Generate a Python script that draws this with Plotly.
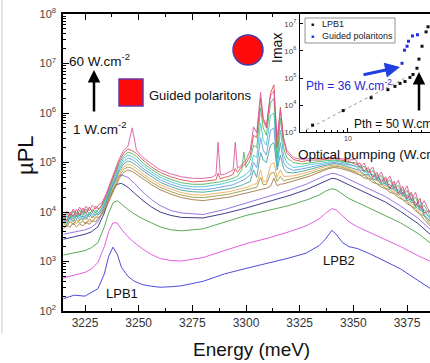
import numpy as np
import plotly.graph_objects as go

# ---------------- main panel data (log10 of µPL) ----------------
energy_smooth = [3215, 3220, 3225, 3228, 3231, 3234, 3236, 3238, 3240, 3242, 3245, 3248,
                 3252, 3256, 3260, 3265, 3270, 3280, 3290, 3300, 3310, 3320, 3328, 3334,
                 3337, 3340, 3342, 3345, 3348, 3352, 3358, 3365, 3372, 3380, 3386]

spec01 = [2.25, 2.32, 2.30, 2.38, 2.45, 2.75, 3.10, 3.29, 3.15, 2.88, 2.70, 2.60, 2.53, 2.50, 2.48,
          2.49, 2.51, 2.60, 2.75, 2.86, 2.96, 3.07, 3.17, 3.32, 3.45, 3.63, 3.55, 3.38, 3.30, 3.26,
          3.15, 3.00, 2.85, 2.62, 2.45]
spec02 = [2.67, 2.72, 2.78, 2.85, 2.98, 3.30, 3.60, 3.78, 3.78, 3.65, 3.50, 3.38, 3.25, 3.14, 3.06,
          3.02, 3.01, 3.08, 3.22, 3.36, 3.47, 3.60, 3.72, 3.86, 3.97, 4.07, 4.04, 3.92, 3.80, 3.70,
          3.58, 3.43, 3.30, 3.12, 3.00]
spec03 = [3.13, 3.18, 3.22, 3.28, 3.38, 3.70, 3.98, 4.18, 4.23, 4.16, 4.05, 3.96, 3.86, 3.78, 3.70,
          3.64, 3.62, 3.66, 3.80, 3.93, 4.03, 4.13, 4.24, 4.34, 4.42, 4.47, 4.45, 4.36, 4.27, 4.19,
          4.07, 3.93, 3.78, 3.57, 3.37]
spec04 = [3.45, 3.50, 3.55, 3.60, 3.70, 3.98, 4.25, 4.45, 4.56, 4.58, 4.50, 4.38, 4.23, 4.10, 4.00,
          3.93, 3.89, 3.88, 3.97, 4.08, 4.20, 4.33, 4.45, 4.56, 4.63, 4.68, 4.67, 4.61, 4.55, 4.47,
          4.35, 4.20, 4.01, 3.77, 3.54]
spec05 = [3.55, 3.60, 3.64, 3.69, 3.80, 4.08, 4.35, 4.56, 4.70, 4.75, 4.70, 4.58, 4.40, 4.25, 4.13,
          4.03, 3.98, 3.95, 4.05, 4.18, 4.31, 4.44, 4.56, 4.68, 4.74, 4.78, 4.77, 4.72, 4.66, 4.58,
          4.46, 4.31, 4.12, 3.88, 3.64]

energy_bundle = [3215, 3216.5, 3218, 3219.5, 3221, 3222.5, 3224, 3225.5, 3227, 3228.5, 3230, 3231.5,
                 3233, 3235, 3237, 3239, 3241, 3243, 3245, 3247, 3249, 3252, 3256, 3260, 3265, 3270,
                 3275, 3280, 3284, 3286, 3287, 3288, 3290, 3292, 3294, 3295, 3296, 3298, 3299, 3300,
                 3302, 3303.5, 3305, 3306.8, 3308, 3309.5, 3311.4, 3313, 3314.5, 3316, 3317.5, 3319,
                 3322, 3326, 3330, 3334, 3338, 3341, 3344, 3348, 3351, 3353, 3355, 3357, 3359, 3361,
                 3363, 3365, 3367, 3369, 3371, 3373, 3375, 3377, 3379, 3381, 3383, 3385.7]

spec06 = [3.66, 3.74, 3.69, 3.78, 3.70, 3.76, 3.72, 3.80, 3.75, 3.83, 3.80, 3.90, 3.95,
          4.10, 4.30, 4.50, 4.68, 4.80, 4.85, 4.82, 4.76, 4.66, 4.55, 4.45, 4.36, 4.29, 4.25, 4.23,
          4.25, 4.26, 4.27, 4.27, 4.29, 4.30, 4.32, 4.33, 4.34, 4.36, 4.37, 4.38, 4.40, 4.42, 4.43,
          4.46, 4.46, 4.48, 4.52, 4.68, 4.53, 4.56, 4.57, 4.59, 4.62,
          4.67, 4.73, 4.80, 4.87, 4.90, 4.88, 4.83,
          4.78, 4.75, 4.69, 4.67, 4.60, 4.57, 4.50, 4.47, 4.40, 4.37, 4.29, 4.25, 4.17, 4.12, 4.02,
          3.96, 3.85, 3.72]
spec07 = [3.78, 3.70, 3.82, 3.74, 3.85, 3.77, 3.81, 3.76, 3.86, 3.80, 3.90, 3.89, 3.98,
          4.14, 4.34, 4.55, 4.73, 4.86, 4.91, 4.88, 4.82, 4.72, 4.60, 4.50, 4.41, 4.34, 4.30, 4.29,
          4.31, 4.32, 4.33, 4.33, 4.35, 4.36, 4.38, 4.39, 4.40, 4.42, 4.43, 4.44, 4.46, 4.48, 4.50,
          4.70, 4.55, 4.56, 4.78, 4.80, 4.62, 4.72, 4.63, 4.65, 4.68,
          4.72, 4.78, 4.84, 4.90, 4.93, 4.91, 4.86,
          4.81, 4.75, 4.74, 4.68, 4.65, 4.57, 4.55, 4.48, 4.45, 4.38, 4.34, 4.25, 4.22, 4.12, 4.07,
          3.96, 3.92, 3.76]
spec08 = [3.72, 3.84, 3.78, 3.88, 3.76, 3.86, 3.82, 3.90, 3.80, 3.92, 3.88, 3.96, 4.01,
          4.17, 4.38, 4.59, 4.78, 4.91, 4.97, 4.94, 4.88, 4.77, 4.65, 4.55, 4.46, 4.39, 4.35, 4.34,
          4.36, 4.37, 4.38, 4.38, 4.40, 4.41, 4.43, 4.44, 4.45, 4.47, 4.48, 4.50, 4.52, 4.56, 4.57,
          4.85, 4.62, 4.62, 4.95, 5.00, 4.70, 4.85, 4.72, 4.72, 4.73,
          4.77, 4.82, 4.87, 4.93, 4.95, 4.93, 4.88,
          4.84, 4.80, 4.76, 4.72, 4.67, 4.63, 4.58, 4.52, 4.49, 4.42, 4.37, 4.31, 4.25, 4.17, 4.11,
          4.02, 3.94, 3.80]
spec09 = [3.85, 3.74, 3.90, 3.80, 3.94, 3.83, 3.92, 3.85, 3.96, 3.88, 3.97, 3.95, 4.04,
          4.21, 4.42, 4.64, 4.83, 4.97, 5.03, 5.00, 4.94, 4.83, 4.71, 4.60, 4.51, 4.44, 4.41, 4.40,
          4.42, 4.43, 4.44, 4.44, 4.46, 4.47, 4.49, 4.50, 4.52, 4.54, 4.56, 4.58, 4.62, 4.85, 4.70,
          5.20, 5.05, 5.00, 5.35, 5.40, 4.85, 5.15, 4.88, 4.80, 4.79,
          4.82, 4.87, 4.91, 4.95, 4.98, 4.96, 4.91,
          4.86, 4.84, 4.76, 4.75, 4.66, 4.67, 4.56, 4.58, 4.47, 4.49, 4.36, 4.39, 4.23, 4.27, 4.09,
          4.14, 3.93, 3.83]
spec10 = [3.80, 3.92, 3.84, 3.95, 3.86, 3.98, 3.84, 3.96, 3.90, 3.99, 3.93, 4.00, 4.07,
          4.24, 4.46, 4.68, 4.88, 5.02, 5.09, 5.06, 5.00, 4.88, 4.76, 4.65, 4.56, 4.49, 4.46, 4.45,
          4.47, 4.48, 4.49, 4.50, 4.52, 4.53, 4.55, 4.57, 4.59, 4.62, 4.65, 4.68, 4.75, 5.00, 4.90,
          5.50, 5.25, 5.15, 5.65, 5.70, 4.91, 5.40, 5.00, 4.90, 4.84,
          4.87, 4.91, 4.94, 4.98, 5.00, 4.98, 4.94,
          4.93, 4.84, 4.85, 4.75, 4.76, 4.64, 4.67, 4.54, 4.56, 4.44, 4.46, 4.32, 4.35, 4.19, 4.20,
          4.03, 4.05, 3.86]
spec11 = [3.90, 3.78, 3.95, 3.86, 3.99, 3.88, 4.02, 3.90, 4.00, 3.93, 4.04, 3.98, 4.10,
          4.28, 4.50, 4.73, 4.93, 5.08, 5.15, 5.12, 5.06, 4.94, 4.81, 4.70, 4.61, 4.54, 4.51, 4.51,
          4.53, 4.54, 4.55, 4.56, 4.58, 4.60, 4.62, 4.64, 4.66, 4.70, 4.73, 4.76, 4.85, 5.15, 5.10,
          5.80, 5.45, 5.35, 5.95, 6.00, 4.95, 5.65, 5.15, 5.00, 4.90,
          4.92, 4.96, 4.98, 5.01, 5.03, 5.01, 4.97,
          4.92, 4.93, 4.80, 4.84, 4.70, 4.75, 4.59, 4.66, 4.48, 4.56, 4.38, 4.46, 4.26, 4.36, 4.12,
          4.22, 3.97, 3.90]
spec12 = [3.84, 3.97, 3.88, 4.02, 3.90, 4.04, 3.93, 4.06, 3.95, 4.05, 3.98, 4.08, 4.13,
          4.31, 4.54, 4.77, 4.98, 5.13, 5.21, 5.18, 5.12, 4.99, 4.86, 4.75, 4.66, 4.59, 4.56, 4.56,
          4.58, 4.59, 4.60, 4.61, 4.63, 4.65, 4.68, 4.70, 4.72, 4.85, 5.21, 4.90, 5.05, 5.35, 5.30,
          6.10, 5.70, 5.55, 6.20, 6.30, 5.10, 5.90, 5.30, 5.10, 5.00,
          4.97, 5.00, 5.02, 5.04, 5.05, 5.03, 5.00,
          5.00, 4.88, 4.93, 4.78, 4.84, 4.66, 4.74, 4.57, 4.65, 4.47, 4.54, 4.34, 4.44, 4.22, 4.30,
          4.05, 4.14, 3.92]
spec13 = [3.95, 3.82, 4.00, 3.90, 4.05, 3.92, 4.08, 3.97, 4.10, 4.00, 4.12, 4.05, 4.16,
          4.35, 4.58, 4.82, 5.03, 5.19, 5.27, 5.24, 5.18, 5.05, 4.91, 4.80, 4.71, 4.65, 4.61, 4.62,
          4.64, 4.65, 4.78, 4.67, 4.70, 4.72, 4.76, 4.88, 4.80, 4.92, 4.95, 4.98, 5.15, 5.55, 5.50,
          6.30, 5.85, 5.70, 6.40, 6.57, 5.30, 6.12, 5.45, 5.20, 5.06,
          5.02, 5.05, 5.05, 5.07, 5.08, 5.05, 5.02,
          4.96, 4.99, 4.82, 4.90, 4.70, 4.80, 4.60, 4.71, 4.47, 4.62, 4.38, 4.52, 4.27, 4.40, 4.12,
          4.28, 3.98, 4.03]
spec14 = [3.86, 4.02, 3.92, 4.06, 3.95, 4.10, 3.98, 4.12, 4.02, 4.14, 4.06, 4.15, 4.19,
          4.38, 4.62, 4.86, 5.08, 5.24, 5.33, 5.70, 5.24, 5.10, 4.97, 4.85, 4.77, 4.71, 4.68, 4.68,
          4.70, 4.75, 5.41, 4.75, 4.76, 4.80, 4.85, 5.41, 4.88, 4.95, 5.00, 5.05, 5.25, 5.72, 5.60,
          6.42, 5.90, 5.75, 6.35, 6.45, 5.50, 6.05, 5.50, 5.25, 5.10,
          5.06, 5.08, 5.08, 5.09, 5.10, 5.08, 5.05,
          5.06, 4.90, 4.99, 4.80, 4.91, 4.68, 4.81, 4.59, 4.73, 4.49, 4.64, 4.36, 4.53, 4.24, 4.40,
          4.08, 4.23, 3.98]

energy_ticks = [3225, 3250, 3275, 3300, 3325, 3350, 3375]
upl_ticks = [1e2, 1e3, 1e4, 1e5, 1e6, 1e7, 1e8]
upl_ticktext = ["10<sup>2</sup>", "10<sup>3</sup>", "10<sup>4</sup>", "10<sup>5</sup>",
                "10<sup>6</sup>", "10<sup>7</sup>", "10<sup>8</sup>"]

# ---------------- inset data ----------------
pump_lpb1 = [4.6, 9.0, 16.6, 24.0, 28.0, 31.3, 34.9, 38.9, 41.6, 45.4, 47.4, 50.7, 55.4, 57.8]
imax_lpb1 = [1.8e3, 6.2e3, 1.86e4, 3.7e4, 4.9e4, 6.3e4, 7.4e4, 1.05e5, 1.35e5, 2.3e5, 5.0e5,
             1.5e6, 5.1e6, 7.9e6]
pump_guided = [32.7, 34.5, 36.5, 37.7, 41.1, 45.9]
imax_guided = [3.5e5, 1.07e6, 1.5e6, 2.3e6, 3.6e6, 4.0e6]
fit_pump = [4.0, 35.0]
fit_imax = [1.2e3, 1.0e5]
inset_ytick_vals = [1e3, 1e4, 1e5, 1e6, 1e7]
inset_ytick_text = ["10<sup>3</sup>", "10<sup>4</sup>", "10<sup>5</sup>", "10<sup>6</sup>", "10<sup>7</sup>"]
inset_xtick_vals = [10]
inset_xtick_text = ["10"]

smooth_specs = [spec01, spec02, spec03, spec04, spec05]
bundle_specs = [spec06, spec07, spec08, spec09, spec10, spec11, spec12, spec13, spec14]
for s in smooth_specs:
    assert len(s) == len(energy_smooth), len(s)
for s in bundle_specs:
    assert len(s) == len(energy_bundle), len(s)

smooth_colors = ["#3a3ad8", "#e050dc", "#4aa24a", "#2a2a80", "#9068e4"]
bundle_colors = ["#a07040", "#94943a", "#eea850", "#36a096", "#5a96d8", "#38c4d4",
                 "#48b450", "#d84848", "#d8509a"]

FONT = "Arial, Liberation Sans, sans-serif"

fig = go.Figure()
for s, c in zip(smooth_specs, smooth_colors):
    fig.add_trace(go.Scatter(x=energy_smooth, y=np.power(10.0, s), mode="lines",
                             line=dict(color=c, width=1), opacity=0.9, showlegend=False,
                             xaxis="x", yaxis="y"))
for s, c in zip(bundle_specs, bundle_colors):
    fig.add_trace(go.Scatter(x=energy_bundle, y=np.power(10.0, s), mode="lines",
                             line=dict(color=c, width=1), opacity=0.85, showlegend=False,
                             xaxis="x", yaxis="y"))

# inset traces
fig.add_trace(go.Scatter(x=fit_pump, y=fit_imax, mode="lines",
                         line=dict(color="#999999", width=1, dash="dot"),
                         showlegend=False, xaxis="x2", yaxis="y2"))
fig.add_trace(go.Scatter(x=pump_lpb1, y=imax_lpb1, mode="markers",
                         marker=dict(color="#111111", size=3, symbol="square"),
                         name="LPB1", showlegend=False, xaxis="x2", yaxis="y2"))
fig.add_trace(go.Scatter(x=pump_guided, y=imax_guided, mode="markers",
                         marker=dict(color="#2030e0", size=3, symbol="square"),
                         name="Guided polaritons", showlegend=False, xaxis="x2", yaxis="y2"))

W, H = 430, 363
L, R, T, B = 63, 0, 14, 52
pw, ph = W - L - R, H - T - B


def px(x):
    return (x - L) / pw


def py(y):
    return (T + ph - y) / ph


fig.update_layout(
    width=W, height=H, autosize=False,
    margin=dict(l=L, r=R, t=T, b=B, pad=0, autoexpand=False),
    paper_bgcolor="white", plot_bgcolor="white",
    font=dict(family=FONT, color="#222"),
    showlegend=False,
    xaxis=dict(domain=[0, 1], range=[3214.75, 3385.7], tickvals=energy_ticks, automargin=False,
               showgrid=False, zeroline=False, showline=True, linecolor="black", linewidth=1.5,
               mirror="ticks", ticks="inside", ticklen=6, tickwidth=1.2, tickcolor="black",
               minor=dict(dtick=12.5, tick0=3225, ticks="inside", ticklen=3, tickcolor="black"),
               tickfont=dict(size=12, color="#333")),
    yaxis=dict(domain=[0, 1], type="log", range=[2, 8], tickvals=upl_ticks, ticktext=upl_ticktext,
               automargin=False,
               showgrid=False, zeroline=False, showline=True, linecolor="black", linewidth=1.5,
               mirror=False, ticks="inside", ticklen=6, tickwidth=1.2, tickcolor="black",
               minor=dict(dtick="D1", ticks="inside", ticklen=3, tickcolor="black"),
               tickfont=dict(size=11, color="#444"), ticklabelstandoff=3),
    xaxis2=dict(domain=[px(300), 1], anchor="y2", type="log", range=[0.543, 1.781],
                tickvals=inset_xtick_vals, ticktext=inset_xtick_text, automargin=False,
                showgrid=False, zeroline=False, showline=True, linecolor="black", linewidth=1,
                mirror=True, ticks="inside", ticklen=4, tickcolor="black",
                minor=dict(dtick="D1", ticks="inside", ticklen=2, tickcolor="black"),
                tickfont=dict(size=7, color="#444")),
    yaxis2=dict(domain=[py(132), 1], anchor="x2", type="log", range=[3, 7.37],
                tickvals=inset_ytick_vals, ticktext=inset_ytick_text, automargin=False,
                showgrid=False, zeroline=False, showline=True, linecolor="black", linewidth=1,
                ticks="inside", ticklen=3, tickcolor="black",
                tickfont=dict(size=8, color="#444"), ticklabelstandoff=1),
)

shapes = [
    # white inset background
    dict(type="rect", xref="paper", yref="paper", x0=px(300), x1=1.0, y0=py(132), y1=1.0,
         fillcolor="white", line=dict(width=0), layer="below"),
    # red square marker
    dict(type="rect", xref="paper", yref="paper", x0=px(119), x1=px(143), y0=py(106), y1=py(79),
         fillcolor="#ff0a0a", line=dict(color="#6a3aa8", width=1.5)),
    # red circle marker
    dict(type="circle", xref="paper", yref="paper", x0=px(233), x1=px(263), y0=py(65), y1=py(35),
         fillcolor="#ff0a0a", line=dict(color="#4a3aa8", width=1.5)),
    # inset legend box
    dict(type="rect", xref="paper", yref="paper", x0=px(305), x1=px(395), y0=py(43), y1=py(18),
         fillcolor="white", line=dict(color="#777", width=0.8)),
    # fragment of neighbouring panel at the left edge
    dict(type="line", xref="paper", yref="paper", x0=px(2), x1=px(2), y0=py(0), y1=py(333),
         line=dict(color="#cfcfcf", width=1.2)),
]

ann = [
    dict(text="60 W.cm<sup>-2</sup>", x=px(67), y=py(60), xanchor="left", yanchor="middle",
         font=dict(size=13.5, color="#111")),
    dict(text="1 W.cm<sup>-2</sup>", x=px(71), y=py(128), xanchor="left", yanchor="middle",
         font=dict(size=13.5, color="#111")),
    dict(text="Guided polaritons", x=px(147), y=py(95), xanchor="left", yanchor="middle",
         font=dict(size=13, color="#111")),
    dict(text="LPB1", x=px(122), y=py(293), xanchor="center", yanchor="middle",
         font=dict(size=13, color="#111")),
    dict(text="LPB2", x=px(339), y=py(260), xanchor="center", yanchor="middle",
         font=dict(size=13, color="#111")),
    dict(text="Energy (meV)", x=px(251), y=py(349), xanchor="center", yanchor="middle",
         font=dict(size=19, color="#111")),
    dict(text="µPL", x=px(26), y=py(155), xanchor="center", yanchor="middle", textangle=-90,
         font=dict(size=22, color="#111")),
    # main arrow
    dict(text="", x=px(94), y=py(70), ax=0, ay=43, showarrow=True, arrowhead=2, arrowsize=1,
         arrowwidth=2.5, arrowcolor="black"),
    # inset texts
    dict(text="Imax", x=px(277), y=py(48), xanchor="center", yanchor="middle", textangle=-90,
         font=dict(size=14, color="#111")),
    dict(text="Optical pumping (W.cm<sup>-2</sup>)", x=px(296), y=py(153), xanchor="left",
         yanchor="middle", font=dict(size=13.5, color="#111")),
    dict(text="Pth = 36 W.cm<sup>-2</sup>", x=px(304), y=py(85), xanchor="left", yanchor="middle",
         font=dict(size=12, color="#2a2ad0")),
    dict(text="Pth = 50 W.cm<sup>-2</sup>", x=px(352), y=py(123), xanchor="left", yanchor="middle",
         font=dict(size=12, color="#111")),
    dict(text="", x=px(400), y=py(67), ax=-38, ay=8, showarrow=True, arrowhead=2, arrowsize=1,
         arrowwidth=3, arrowcolor="#1f3fe0"),
    dict(text="", x=px(419), y=py(72), ax=0, ay=40, showarrow=True, arrowhead=2, arrowsize=1,
         arrowwidth=2.5, arrowcolor="black"),
    # inset legend
    dict(text="■", x=px(312), y=py(24), xanchor="center", yanchor="middle",
         font=dict(size=5, color="#111")),
    dict(text="LPB1", x=px(320), y=py(24), xanchor="left", yanchor="middle",
         font=dict(size=9, color="#222")),
    dict(text="■", x=px(312), y=py(36), xanchor="center", yanchor="middle",
         font=dict(size=5, color="#2030e0")),
    dict(text="Guided polaritons", x=px(320), y=py(36), xanchor="left", yanchor="middle",
         font=dict(size=9, color="#222")),
]
for a in ann:
    a.setdefault("xref", "paper")
    a.setdefault("yref", "paper")
    a.setdefault("showarrow", False)
    a["font"] = dict(family=FONT, **a.get("font", {})) if "font" in a else dict(family=FONT)

fig.update_layout(shapes=shapes, annotations=ann)
fig.write_html("out.html", config={"displayModeBar": False},
               post_script="document.body.style.margin='0px';"
                           "document.body.style.overflow='hidden';")
